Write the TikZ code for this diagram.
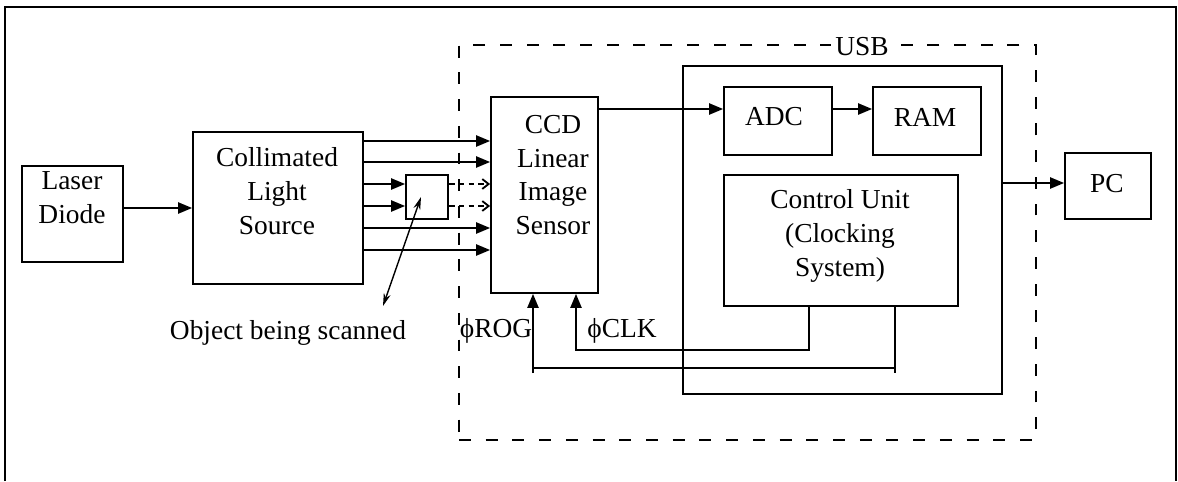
\documentclass[tikz,border=0pt]{standalone}
\usepackage{fontspec}
\setmainfont{Liberation Serif}
\usetikzlibrary{arrows.meta,fit}
\begin{document}
\begin{tikzpicture}[x=0.025cm,y=-0.025cm,
  box/.style={draw, line width=1.3pt, inner sep=0pt},
  txt/.style={font=\fontsize{19.5}{24}\selectfont, align=center, inner sep=0pt},
  ln/.style={line width=1.3pt},
  arr/.style={ln, -{Triangle[length=10pt,width=8pt]}},
  darr/.style={ln, dash pattern=on 4pt off 3pt, -{Straight Barb[length=4.5pt,width=7pt]}},
  dbl/.style={line width=1pt, {Stealth[length=9pt,width=5pt]}-{Stealth[length=9pt,width=5pt]}},
]
\useasboundingbox (0,0) rectangle (1178,481);
% outer frame
\draw[line width=1.8pt] (5,481) -- (5,7) -- (1176,7) -- (1176,481);
% dashed system boundary
\node[draw, line width=1.3pt, dash pattern=on 8.5pt off 10.5pt, inner sep=0pt, fit={(459,45) (1036,440)}] (sys) {};

% blocks
\node[box, fit={(22,166) (123,262)}] (laser) {};
\node[txt] (laser-t) at (72,198) {Laser\\Diode};

\node[box, fit={(193,132) (363,284)}] (cls) {};
\node[txt] (cls-t) at (277,191) {Collimated\\Light\\Source};

\node[box, fit={(406,175) (448,219)}] (obj) {};

\node[box, fit={(491,97) (598,293)}] (ccd) {};
\node[txt] (ccd-t) at (553,175) {CCD\\Linear\\Image\\Sensor};

\node[box, fit={(683,66) (1002,394)}] (usb) {};
\node[txt, fill=white, inner xsep=3pt] (usb-t) at (862,47) {USB};

\node[box, fit={(724,87) (832,155)}] (adc) {};
\node[txt] (adc-t) at (774,117) {ADC};
\node[box, fit={(873,87) (981,155)}] (ram) {};
\node[txt] (ram-t) at (925,117) {RAM};

\node[box, fit={(724,175) (958,306)}] (cu) {};
\node[txt] (cu-t) at (840,236) {Control Unit\\(Clocking\\System)};

\node[box, fit={(1065,153) (1151,219)}] (pc) {};
\node[txt] (pc-t) at (1107,184) {PC};

% labels
\node[txt] (rog) at (496,331) {ϕROG};
\node[txt] (clk) at (622,331) {ϕCLK};
\node[txt] (objlabel) at (288,333) {Object being scanned};

% connectors
\draw[arr] (laser.east |- cls.west) -- (cls.west);

\foreach \y in {141,162,228,250}
  \draw[arr] (cls.east |- 0,\y) -- (ccd.west |- 0,\y);
\foreach \y in {184,206} {
  \draw[arr] (cls.east |- 0,\y) -- (obj.west |- 0,\y);
  \draw[darr] (obj.east |- 0,\y) -- (ccd.west |- 0,\y);
}

\coordinate (objtip) at (383,306);
\coordinate (objin) at (421,197);
\draw[dbl] (objtip) -- (objin);

\draw[arr] (ccd.east |- 0,109) -- (adc.west |- 0,109);
\draw[arr] (adc.east |- 0,109) -- (ram.west |- 0,109);
\draw[arr] (usb.east |- 0,183) -- (pc.west |- 0,183);

% clock lines
\draw[arr] (cu.south -| 809,0) |- (576,350) -- (ccd.south -| 576,0);
\coordinate (rogR) at (895,373);
\coordinate (rogL) at (533,373);
\draw[ln] (cu.south -| rogR) -- (rogR);
\draw[ln] (533,368) -- (895,368);
\draw[arr] (rogL) -- (ccd.south -| rogL);
\end{tikzpicture}
\end{document}
